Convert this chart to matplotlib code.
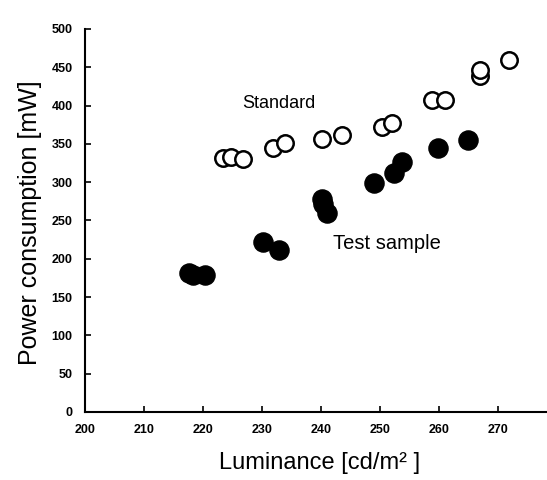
import matplotlib.pyplot as plt

# standard (open circles)
std_lum = [223.4, 224.8, 226.8, 231.9, 233.9, 240.1, 243.6, 250.3, 252.0,
           258.8, 261.0, 267.0, 267.0, 271.8]
std_pow = [331, 333, 330, 345, 351, 357, 361, 372, 377,
           407, 407, 439, 446, 460]

# test sample (filled circles)
test_lum = [217.6, 218.3, 220.3, 230.2, 232.8, 240.1, 240.4, 241.0,
            248.9, 252.4, 253.7, 259.8, 264.9]
test_pow = [181, 179, 179, 222, 211, 278, 271, 260,
            299, 312, 326, 344, 355]

xticks = list(range(200, 290, 10))
yticks = list(range(0, 550, 50))

plt.rcParams['font.family'] = ['Liberation Sans', 'DejaVu Sans']

fig = plt.figure(figsize=(5.47, 4.8), dpi=100)
ax = fig.add_axes([0.1554, 0.1417, 0.8629, 0.7979])

ax.scatter(std_lum, std_pow, s=140, facecolors='white', edgecolors='black',
           linewidths=1.8, zorder=3)
ax.scatter(test_lum, test_pow, s=190, color='black', zorder=3)

ax.text(232.9, 403, "Standard", fontsize=13, ha='center', va='center')
ax.text(251.2, 220.5, "Test sample", fontsize=14.5, ha='center', va='center')

ax.set_xlim(200, 280)
ax.set_ylim(0, 500)
ax.set_xticks(xticks)
ax.set_yticks(yticks)
ax.tick_params(direction='in', length=4, width=1.2, labelsize=9, pad=9)
for lab in ax.get_xticklabels() + ax.get_yticklabels():
    lab.set_fontweight('bold')

for s in ['top', 'right']:
    ax.spines[s].set_visible(False)
for s in ['left', 'bottom']:
    ax.spines[s].set_linewidth(1.5)

ax.set_xlabel("Luminance [cd/m² ]", fontsize=17, va='center')
ax.set_ylabel("Power consumption [mW]", fontsize=18, va='center')
ax.xaxis.set_label_coords((320 - 85) / 472, -(463 - 412) / 383)
ax.yaxis.set_label_coords(-(85 - 30) / 472, (412 - 223) / 383)

fig.savefig("out.png", dpi=100)
